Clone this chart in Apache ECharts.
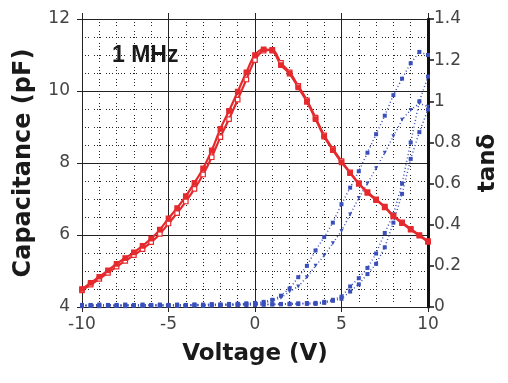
<!DOCTYPE html>
<html>
<head>
<meta charset="utf-8">
<script src="https://cdn.jsdelivr.net/npm/echarts@6/dist/echarts.min.js"></script>
<style>
  html, body { margin: 0; padding: 0; background: #fff; }
  #chart { width: 508px; height: 383px; }
</style>
</head>
<body>
<div id="chart"></div>
<script>
// Bias voltage sweep points (V)
const voltage = [-10, -9.5, -9, -8.5, -8, -7.5, -7, -6.5, -6, -5.5, -5, -4.5, -4, -3.5, -3, -2.5, -2, -1.5, -1, -0.5,
                 0, 0.5, 1, 1.5, 2, 2.5, 3, 3.5, 4, 4.5, 5, 5.5, 6, 6.5, 7, 7.5, 8, 8.5, 9, 9.5, 10];

// Capacitance (pF) at 1 MHz, up and down sweeps
const capUp = [4.50, 4.67, 4.84, 5.02, 5.20, 5.36, 5.52, 5.70, 5.90, 6.15, 6.46, 6.75, 7.08, 7.45, 7.85, 8.35, 8.95, 9.45, 9.98, 10.52,
               11.00, 11.16, 11.12, 10.72, 10.48, 10.10, 9.70, 9.22, 8.73, 8.36, 8.02, 7.72, 7.42, 7.17, 6.97, 6.77, 6.52, 6.33, 6.15, 5.98, 5.81];
const capDown = [4.46, 4.62, 4.78, 4.95, 5.12, 5.28, 5.44, 5.61, 5.80, 6.03, 6.32, 6.61, 6.93, 7.28, 7.68, 8.16, 8.72, 9.22, 9.76, 10.32,
                 10.86, 11.12, 11.14, 10.78, 10.52, 10.14, 9.74, 9.26, 8.77, 8.39, 8.05, 7.74, 7.44, 7.19, 6.99, 6.79, 6.54, 6.35, 6.17, 6.00, 5.83];

// Loss tangent, four sweeps
const tanA = [0.010, 0.010, 0.012, 0.010, 0.010, 0.012, 0.010, 0.012, 0.010, 0.012, 0.010, 0.012, 0.010, 0.012, 0.012, 0.014, 0.012, 0.015, 0.016, 0.018,
              0.020, 0.025, 0.035, 0.055, 0.090, 0.145, 0.200, 0.275, 0.340, 0.410, 0.500, 0.580, 0.660, 0.750, 0.840, 0.930, 1.030, 1.110, 1.185, 1.240, 1.225];
const tanB = [0.008, 0.009, 0.008, 0.010, 0.008, 0.009, 0.010, 0.008, 0.010, 0.009, 0.010, 0.009, 0.010, 0.011, 0.010, 0.012, 0.011, 0.012, 0.013, 0.014,
              0.015, 0.020, 0.030, 0.045, 0.075, 0.100, 0.145, 0.200, 0.250, 0.310, 0.370, 0.450, 0.530, 0.600, 0.675, 0.750, 0.830, 0.910, 0.958, 0.990, 0.974];
const tanC = [0.006, 0.007, 0.006, 0.008, 0.006, 0.007, 0.008, 0.006, 0.008, 0.007, 0.008, 0.007, 0.008, 0.009, 0.008, 0.009, 0.010, 0.010, 0.011, 0.012,
              0.012, 0.013, 0.014, 0.015, 0.016, 0.018, 0.019, 0.020, 0.025, 0.035, 0.050, 0.100, 0.140, 0.190, 0.260, 0.360, 0.450, 0.600, 0.800, 1.000, 1.120];
const tanD = [0.004, 0.005, 0.004, 0.006, 0.005, 0.004, 0.006, 0.005, 0.006, 0.005, 0.006, 0.005, 0.006, 0.007, 0.006, 0.007, 0.008, 0.008, 0.009, 0.010,
              0.010, 0.011, 0.012, 0.013, 0.013, 0.014, 0.015, 0.015, 0.020, 0.030, 0.040, 0.075, 0.110, 0.160, 0.210, 0.290, 0.410, 0.550, 0.720, 0.850, 0.960];

// Axis ranges and ticks
const voltTicks = [-10, 10, 5];
const capTicks = [4, 12, 2];
const tanTicks = [0, 1.4, 0.2];

const RED = '#e52a2e';
const BLUE = '#3a4fba';
const INK = '#222';
const LABEL = '#444';

const pairs = (ys) => voltage.map((v, i) => [v, ys[i]]);

const chart = echarts.init(document.getElementById('chart'), null, { renderer: 'canvas' });

const dotted = { color: '#222', width: 1, type: [1, 2, 1, 2, 1, 5] };
const tickFont = { fontFamily: 'DejaVu Sans', fontSize: 17, color: LABEL };
const nameFont = { fontFamily: 'DejaVu Sans', fontWeight: 'bold', fontSize: 23, color: '#1a1a1a' };

const redSeries = (ys, empty) => ({
  type: 'line', xAxisIndex: 0, yAxisIndex: 0, data: pairs(ys),
  smooth: 0.35,
  symbol: 'rect', symbolSize: 4.5,
  itemStyle: { color: empty ? '#fff' : RED, borderColor: RED, borderWidth: 1.2 },
  lineStyle: { color: RED, width: 2.2 },
  animation: false, z: 5
});
const blueSeries = (ys, sym, rot) => ({
  type: 'line', xAxisIndex: 0, yAxisIndex: 1, data: pairs(ys),
  symbol: sym, symbolSize: 4, symbolRotate: rot || 0,
  itemStyle: { color: BLUE },
  lineStyle: { color: BLUE, width: 1.5, type: [1, 2.5] },
  animation: false, z: 4
});

chart.setOption({
  backgroundColor: '#fff',
  animation: false,
  grid: { left: 82, right: 77, top: 19, bottom: 76 },
  xAxis: [
    {
      type: 'value', position: 'bottom',
      min: voltTicks[0], max: voltTicks[1], interval: voltTicks[2],
      name: 'Voltage (V)', nameLocation: 'middle', nameGap: 36, nameTextStyle: nameFont,
      axisLine: { show: true, onZero: false, lineStyle: { color: INK, width: 1 } },
      axisTick: { show: true, inside: false, length: 5, lineStyle: { color: INK } },
      axisLabel: Object.assign({ margin: 9 }, tickFont),
      splitLine: { show: true, lineStyle: { color: INK, width: 1 } },
      minorTick: { show: false, splitNumber: 5 },
      minorSplitLine: { show: true, lineStyle: dotted }
    },
    {
      type: 'value', position: 'top',
      min: voltTicks[0], max: voltTicks[1], interval: voltTicks[2],
      axisLine: { show: true, onZero: false, lineStyle: { color: INK, width: 1 } },
      axisTick: { show: true, inside: false, length: 6, lineStyle: { color: INK } },
      axisLabel: { show: false },
      splitLine: { show: false }
    }
  ],
  yAxis: [
    {
      type: 'value', position: 'left',
      min: capTicks[0], max: capTicks[1], interval: capTicks[2],
      name: 'Capacitance (pF)', nameLocation: 'middle', nameGap: 46, nameRotate: 90,
      nameTextStyle: Object.assign({}, nameFont, { fontSize: 24 }),
      axisLine: { show: true, onZero: false, lineStyle: { color: INK, width: 1 } },
      axisTick: { show: true, inside: false, length: 5, lineStyle: { color: INK } },
      axisLabel: Object.assign({ margin: 12 }, tickFont),
      splitLine: { show: true, lineStyle: { color: INK, width: 1 } },
      minorTick: { show: false, splitNumber: 4 },
      minorSplitLine: { show: true, lineStyle: dotted }
    },
    {
      type: 'value', position: 'right',
      min: tanTicks[0], max: tanTicks[1], interval: tanTicks[2],
      name: 'tanδ', nameLocation: 'middle', nameGap: 49, nameRotate: 90,
      nameTextStyle: nameFont,
      axisLine: { show: true, onZero: false, lineStyle: { color: '#111', width: 3 } },
      axisTick: { show: true, inside: false, length: 6, lineStyle: { color: '#111', width: 1.5 } },
      axisLabel: Object.assign({ margin: 6 }, tickFont),
      splitLine: { show: false }
    }
  ],
  graphic: [
    {
      type: 'text', left: 112, top: 44, z: 10,
      style: { text: '1 MHz', fontFamily: 'Liberation Sans', fontWeight: 'bold', fontSize: 23, fill: '#1a1a1a' }
    }
  ],
  series: [
    blueSeries(tanA, 'rect'),
    blueSeries(tanB, 'triangle', 180),
    blueSeries(tanC, 'rect'),
    blueSeries(tanD, 'rect'),
    redSeries(capDown, true),
    redSeries(capUp, false)
  ]
});
</script>
</body>
</html>
